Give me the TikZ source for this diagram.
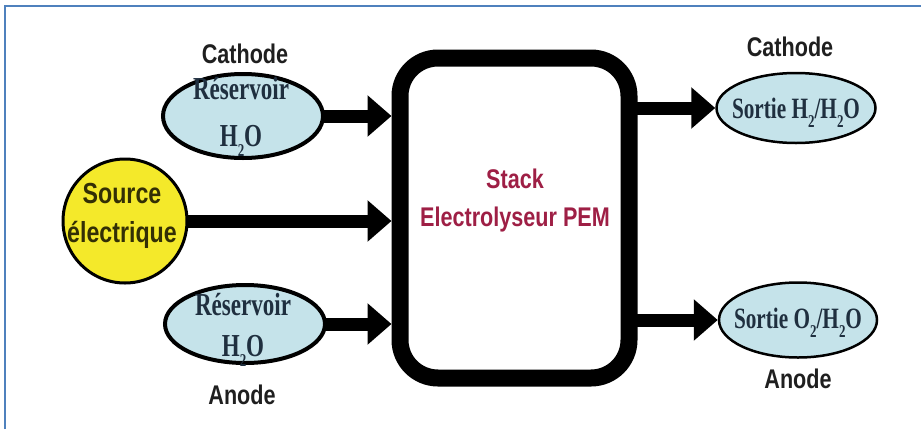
\documentclass[tikz,border=0pt]{standalone}
\usepackage{fontspec}
\setmainfont{Liberation Serif}[FakeStretch=0.72]
\newfontfamily\arialn{Liberation Sans}[FakeStretch=0.8]
\usetikzlibrary{arrows.meta,shapes.geometric}
\definecolor{frameblue}{HTML}{4F81BD}
\definecolor{tankfill}{HTML}{C5E3EA}
\definecolor{tanktext}{HTML}{1F2F3F}
\definecolor{srcfill}{HTML}{F4E92A}
\definecolor{srctext}{HTML}{332F05}
\definecolor{stacktext}{HTML}{9E1F45}
\newcommand\lowidx[1]{\raisebox{-0.3em}{\fontsize{18}{18}\selectfont #1}}
\begin{document}
\begin{tikzpicture}[x=1pt,y=-1pt,
  tank/.style={ellipse, draw=black, line width=4pt, fill=tankfill, inner sep=0pt},
  tanktxt/.style={text=tanktext, align=center, inner sep=0pt},
  lbl/.style={font=\arialn\fontsize{27}{27}\selectfont\bfseries, text=black!88},
  flow/.style={line width=13pt, -{Triangle[length=24pt,width=40pt]}},
]
\useasboundingbox (0,0) rectangle (921,429);
\draw[frameblue, line width=2.5pt] (5,429) -- (5,6) -- (921,6);

% stack
\node[draw=black, line width=17pt, rounded corners=38pt, minimum width=229pt,
      minimum height=320pt, inner sep=0pt] (stack) at (514.5,218) {};
\node[font=\arialn\fontsize{27}{38}\selectfont\bfseries, text=stacktext, align=center]
      (stacktxt) at (515,201) {Stack\\Electrolyseur PEM};

% inputs
\node[tank, minimum width=160pt, minimum height=84pt] (tankc) at (243,116) {};
\node[tanktxt, font=\fontsize{32}{47}\selectfont\bfseries] (tankctxt) at (241,117) {Réservoir\\H\lowidx{2}O};
\node[tank, minimum width=160pt, minimum height=78pt] (tanka) at (245,324) {};
\node[tanktxt, font=\fontsize{32}{41}\selectfont\bfseries] (tankatxt) at (243,330) {Réservoir\\H\lowidx{2}O};
\node[circle, draw=black, line width=3pt, fill=srcfill, minimum size=124pt, inner sep=0pt] (src) at (125,221) {};
\node[font=\arialn\fontsize{29}{39}\selectfont\bfseries, text=srctext, align=center]
      (srctxt) at (122,216) {Source\\électrique};

% outputs
\node[tank, line width=2.5pt, minimum width=159pt, minimum height=70pt] (tankh) at (796,108) {};
\node[tanktxt, font=\fontsize{29.5}{30}\selectfont\bfseries] (tankhtxt) at (796,113) {Sortie H\lowidx{2}/H\lowidx{2}O};
\node[tank, line width=2.5pt, minimum width=158pt, minimum height=75pt] (tanko) at (798,320) {};
\node[tanktxt, font=\fontsize{29.5}{30}\selectfont\bfseries] (tankotxt) at (798,323) {Sortie O\lowidx{2}/H\lowidx{2}O};

% labels
\node[lbl] (lc1) at (245,54) {Cathode};
\node[lbl] (lc2) at (790,47) {Cathode};
\node[lbl] (la1) at (242,395) {Anode};
\node[lbl] (la2) at (798,379) {Anode};

% arrows
\draw[flow] ([xshift=-3pt]tankc.east) -- (tankc.east -| stack.west);
\draw[flow] ([xshift=-2pt]src.east) -- (src.east -| stack.west);
\draw[flow] ([xshift=-3pt]tanka.east) -- (tanka.east -| stack.west);
\draw[flow] ([xshift=-4pt]stack.east |- tankh.west) -- (tankh.west);
\draw[flow] ([xshift=-4pt]stack.east |- tanko.west) -- (tanko.west);
\end{tikzpicture}
\end{document}
